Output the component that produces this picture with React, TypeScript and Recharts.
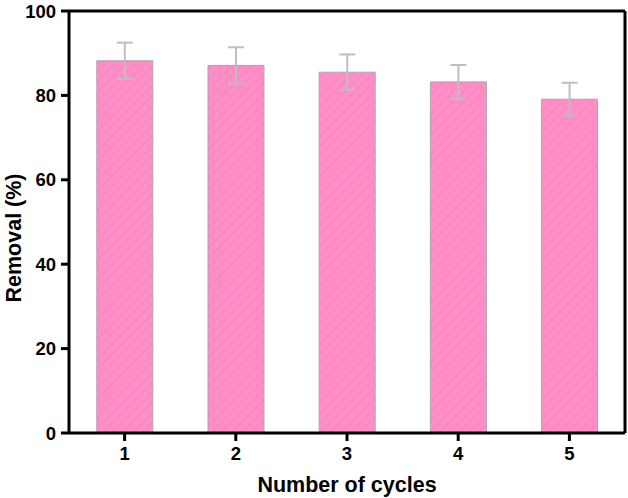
import { BarChart, Bar, XAxis, YAxis, ErrorBar, CartesianGrid } from 'recharts';

const cycles = ['1', '2', '3', '4', '5'];
const removal = [88.2, 87.1, 85.5, 83.2, 79.1];
const errors = [4.3, 4.3, 4.2, 4.0, 3.9];
const yTicks = [0, 20, 40, 60, 80, 100];

const data = cycles.map((c, i) => ({ cycle: c, removal: removal[i], err: errors[i] }));

const font = '"Liberation Sans", Arial, sans-serif';
const tickStyle = { fontFamily: font, fontSize: 18.5, fontWeight: 700, fill: '#000' };
const labelStyle = { fontFamily: font, fontSize: 21.5, fontWeight: 700, fill: '#000' };

const YLabel = ({ viewBox }: any) => {
  const x = viewBox.x + 14;
  const y = viewBox.y + viewBox.height / 2 + 16;
  return (
    <text x={x} y={y} transform={`rotate(-90, ${x}, ${y})`} textAnchor="middle" dominantBaseline="central" style={labelStyle}>
      Removal (%)
    </text>
  );
};

export default function App() {
  return (
    <div style={{ position: 'absolute', left: 0, top: 0, width: 628, height: 498, background: '#fff' }}>
      <BarChart
        width={628}
        height={498}
        data={data}
        margin={{ top: 11, right: 3, bottom: 0, left: 0 }}
        barCategoryGap="25%"
      >
        <defs>
          <pattern id="hatch" width="7" height="7" patternUnits="userSpaceOnUse" patternTransform="rotate(45)">
            <rect width="7" height="7" fill="#FF8EC6" />
            <line x1="0" y1="0" x2="0" y2="7" stroke="#F282BC" strokeWidth="1.6" />
          </pattern>
        </defs>
        <CartesianGrid
          stroke="#000"
          strokeWidth={3}
          horizontalCoordinatesGenerator={({ offset }: any) => [offset.top]}
          verticalCoordinatesGenerator={({ offset }: any) => [offset.left + offset.width]}
        />
        <XAxis
          dataKey="cycle"
          height={65}
          axisLine={{ stroke: '#000', strokeWidth: 3 }}
          tickLine={{ stroke: '#000', strokeWidth: 3 }}
          tickSize={8}
          tick={tickStyle}
          tickMargin={6}
          label={{ value: 'Number of cycles', position: 'insideBottom', offset: 6, style: labelStyle }}
        />
        <YAxis
          domain={[0, 100]}
          ticks={yTicks}
          axisLine={{ stroke: '#000', strokeWidth: 3 }}
          tickLine={{ stroke: '#000', strokeWidth: 3 }}
          tickSize={8}
          tick={tickStyle}
          tickMargin={5}
          width={69}
          label={<YLabel />}
        />
        <Bar dataKey="removal" fill="url(#hatch)" stroke="#A8A8A8" strokeWidth={1} isAnimationActive={false}>
          <ErrorBar dataKey="err" width={8} stroke="#BEBEBE" strokeWidth={2} />
        </Bar>
      </BarChart>
    </div>
  );
}
